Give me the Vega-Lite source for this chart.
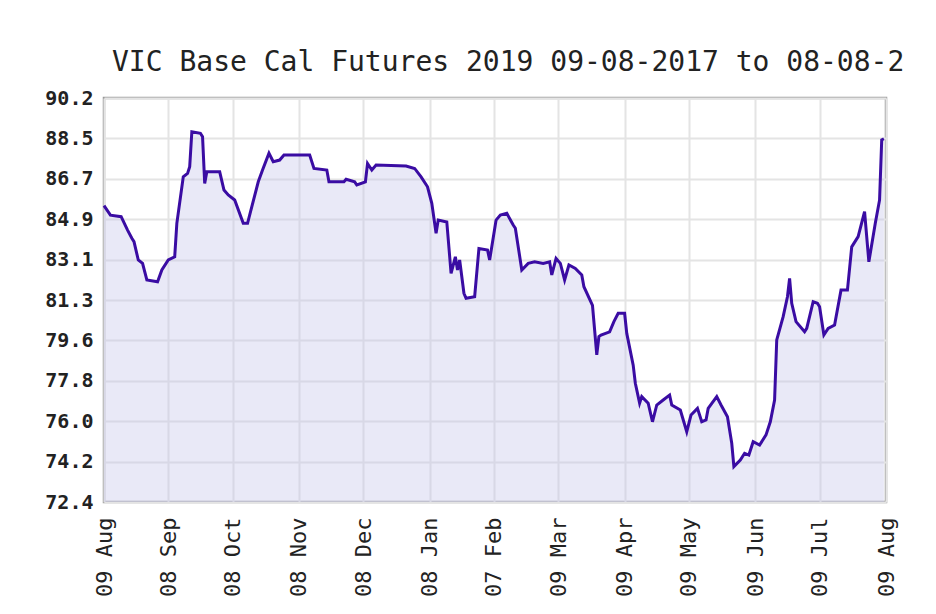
{
  "$schema": "https://vega.github.io/schema/vega-lite/v6.json",
  "width": 782,
  "height": 404,
  "autosize": {"type": "none"},
  "padding": {"left": 104, "top": 98, "right": 50, "bottom": 112},
  "background": "white",
  "title": {
    "text": "VIC Base Cal Futures 2019 09-08-2017 to 08-08-2",
    "font": "DejaVu Sans Mono",
    "fontSize": 28,
    "fontWeight": "normal",
    "color": "#222222",
    "anchor": "start",
    "frame": "group",
    "dx": 8,
    "offset": 11
  },
  "config": {
    "view": {"stroke": "#9a9a9a", "strokeWidth": 2.5},
    "axis": {
      "labelFont": "DejaVu Sans Mono",
      "labelColor": "#222222",
      "domain": false,
      "ticks": false,
      "grid": true,
      "gridColor": "#e4e4e4",
      "gridWidth": 2,
      "title": null
    }
  },
  "data": {
    "values": [
      {"d": "2017-08-09T00:00", "v": 85.5},
      {"d": "2017-08-12T00:00", "v": 85.08},
      {"d": "2017-08-17T00:00", "v": 85.01},
      {"d": "2017-08-20T00:00", "v": 84.42},
      {"d": "2017-08-22T00:00", "v": 84.06},
      {"d": "2017-08-23T00:00", "v": 83.91},
      {"d": "2017-08-25T00:00", "v": 83.1},
      {"d": "2017-08-27T00:00", "v": 82.95},
      {"d": "2017-08-29T00:00", "v": 82.22},
      {"d": "2017-09-03T00:00", "v": 82.14},
      {"d": "2017-09-05T00:00", "v": 82.66},
      {"d": "2017-09-08T00:00", "v": 83.1},
      {"d": "2017-09-11T00:00", "v": 83.24},
      {"d": "2017-09-12T00:00", "v": 84.72},
      {"d": "2017-09-15T00:00", "v": 86.77},
      {"d": "2017-09-17T00:00", "v": 86.92},
      {"d": "2017-09-18T00:00", "v": 87.22},
      {"d": "2017-09-19T00:00", "v": 88.76},
      {"d": "2017-09-23T00:00", "v": 88.69},
      {"d": "2017-09-24T00:00", "v": 88.54},
      {"d": "2017-09-25T00:00", "v": 86.48},
      {"d": "2017-09-26T00:00", "v": 86.99},
      {"d": "2017-10-02T00:00", "v": 86.99},
      {"d": "2017-10-04T00:00", "v": 86.19},
      {"d": "2017-10-06T00:00", "v": 85.97},
      {"d": "2017-10-09T00:00", "v": 85.75},
      {"d": "2017-10-13T00:00", "v": 84.72},
      {"d": "2017-10-15T00:00", "v": 84.72},
      {"d": "2017-10-17T00:00", "v": 85.45},
      {"d": "2017-10-20T00:00", "v": 86.55},
      {"d": "2017-10-22T00:00", "v": 87.07},
      {"d": "2017-10-25T00:00", "v": 87.81},
      {"d": "2017-10-27T00:00", "v": 87.44},
      {"d": "2017-10-30T00:00", "v": 87.51},
      {"d": "2017-11-01T00:00", "v": 87.73},
      {"d": "2017-11-13T00:00", "v": 87.73},
      {"d": "2017-11-15T00:00", "v": 87.14},
      {"d": "2017-11-21T00:00", "v": 87.07},
      {"d": "2017-11-22T00:00", "v": 86.55},
      {"d": "2017-11-29T00:00", "v": 86.55},
      {"d": "2017-11-30T00:00", "v": 86.66},
      {"d": "2017-12-04T00:00", "v": 86.55},
      {"d": "2017-12-05T00:00", "v": 86.41},
      {"d": "2017-12-09T00:00", "v": 86.55},
      {"d": "2017-12-10T00:00", "v": 87.36},
      {"d": "2017-12-12T00:00", "v": 87.07},
      {"d": "2017-12-14T00:00", "v": 87.29},
      {"d": "2017-12-28T00:00", "v": 87.25},
      {"d": "2018-01-01T00:00", "v": 87.14},
      {"d": "2018-01-04T00:00", "v": 86.77},
      {"d": "2018-01-07T00:00", "v": 86.33},
      {"d": "2018-01-09T00:00", "v": 85.6},
      {"d": "2018-01-11T00:00", "v": 84.28},
      {"d": "2018-01-12T00:00", "v": 84.86},
      {"d": "2018-01-16T00:00", "v": 84.78},
      {"d": "2018-01-18T00:00", "v": 82.51},
      {"d": "2018-01-20T00:00", "v": 83.24},
      {"d": "2018-01-21T00:00", "v": 82.66},
      {"d": "2018-01-22T00:00", "v": 83.1},
      {"d": "2018-01-24T00:00", "v": 81.63},
      {"d": "2018-01-25T00:00", "v": 81.41},
      {"d": "2018-01-29T00:00", "v": 81.48},
      {"d": "2018-01-31T00:00", "v": 83.61},
      {"d": "2018-02-04T00:00", "v": 83.54},
      {"d": "2018-02-05T00:00", "v": 83.1},
      {"d": "2018-02-08T00:00", "v": 84.86},
      {"d": "2018-02-10T00:00", "v": 85.08},
      {"d": "2018-02-13T00:00", "v": 85.16},
      {"d": "2018-02-16T00:00", "v": 84.64},
      {"d": "2018-02-17T00:00", "v": 84.5},
      {"d": "2018-02-20T00:00", "v": 82.66},
      {"d": "2018-02-23T00:00", "v": 82.95},
      {"d": "2018-02-26T00:00", "v": 83.02},
      {"d": "2018-03-02T00:00", "v": 82.95},
      {"d": "2018-03-05T00:00", "v": 83.02},
      {"d": "2018-03-06T00:00", "v": 82.44},
      {"d": "2018-03-08T00:00", "v": 83.17},
      {"d": "2018-03-10T00:00", "v": 82.95},
      {"d": "2018-03-12T00:00", "v": 82.22},
      {"d": "2018-03-14T00:00", "v": 82.88},
      {"d": "2018-03-17T00:00", "v": 82.73},
      {"d": "2018-03-20T00:00", "v": 82.44},
      {"d": "2018-03-21T00:00", "v": 81.92},
      {"d": "2018-03-25T00:00", "v": 81.1},
      {"d": "2018-03-26T00:00", "v": 80.01},
      {"d": "2018-03-27T00:00", "v": 78.91},
      {"d": "2018-03-28T00:00", "v": 79.72},
      {"d": "2018-03-29T00:00", "v": 79.79},
      {"d": "2018-04-02T00:00", "v": 79.93},
      {"d": "2018-04-04T00:00", "v": 80.38},
      {"d": "2018-04-06T00:00", "v": 80.75},
      {"d": "2018-04-09T00:00", "v": 80.75},
      {"d": "2018-04-10T00:00", "v": 79.86},
      {"d": "2018-04-13T00:00", "v": 78.46},
      {"d": "2018-04-14T00:00", "v": 77.66},
      {"d": "2018-04-16T00:00", "v": 76.78},
      {"d": "2018-04-17T00:00", "v": 77.07},
      {"d": "2018-04-20T00:00", "v": 76.78},
      {"d": "2018-04-22T00:00", "v": 75.96},
      {"d": "2018-04-24T00:00", "v": 76.7},
      {"d": "2018-04-27T00:00", "v": 76.92},
      {"d": "2018-04-30T00:00", "v": 77.14},
      {"d": "2018-05-01T00:00", "v": 76.7},
      {"d": "2018-05-05T00:00", "v": 76.48},
      {"d": "2018-05-08T00:00", "v": 75.52},
      {"d": "2018-05-10T00:00", "v": 76.26},
      {"d": "2018-05-13T00:00", "v": 76.55},
      {"d": "2018-05-15T00:00", "v": 75.96},
      {"d": "2018-05-17T00:00", "v": 76.04},
      {"d": "2018-05-18T00:00", "v": 76.55},
      {"d": "2018-05-22T00:00", "v": 77.07},
      {"d": "2018-05-24T00:00", "v": 76.7},
      {"d": "2018-05-27T00:00", "v": 76.18},
      {"d": "2018-05-29T00:00", "v": 75.01},
      {"d": "2018-05-30T00:00", "v": 73.98},
      {"d": "2018-06-02T00:00", "v": 74.27},
      {"d": "2018-06-04T00:00", "v": 74.57},
      {"d": "2018-06-06T00:00", "v": 74.49},
      {"d": "2018-06-08T00:00", "v": 75.08},
      {"d": "2018-06-11T00:00", "v": 74.93},
      {"d": "2018-06-14T00:00", "v": 75.38},
      {"d": "2018-06-16T00:00", "v": 75.96},
      {"d": "2018-06-18T00:00", "v": 76.92},
      {"d": "2018-06-19T00:00", "v": 79.57},
      {"d": "2018-06-22T00:00", "v": 80.6},
      {"d": "2018-06-24T00:00", "v": 81.48},
      {"d": "2018-06-25T00:00", "v": 82.29},
      {"d": "2018-06-26T00:00", "v": 81.19},
      {"d": "2018-06-28T00:00", "v": 80.38},
      {"d": "2018-07-02T00:00", "v": 79.93},
      {"d": "2018-07-03T00:00", "v": 80.08},
      {"d": "2018-07-06T00:00", "v": 81.26},
      {"d": "2018-07-08T00:00", "v": 81.19},
      {"d": "2018-07-09T00:00", "v": 81.04},
      {"d": "2018-07-11T00:00", "v": 79.79},
      {"d": "2018-07-13T00:00", "v": 80.08},
      {"d": "2018-07-16T00:00", "v": 80.23},
      {"d": "2018-07-19T00:00", "v": 81.77},
      {"d": "2018-07-22T00:00", "v": 81.77},
      {"d": "2018-07-24T00:00", "v": 83.68},
      {"d": "2018-07-27T00:00", "v": 84.13},
      {"d": "2018-07-30T00:00", "v": 85.23},
      {"d": "2018-08-01T00:00", "v": 83.02},
      {"d": "2018-08-04T00:00", "v": 84.72},
      {"d": "2018-08-06T00:00", "v": 85.75},
      {"d": "2018-08-07T00:00", "v": 88.4},
      {"d": "2018-08-08T00:00", "v": 88.45}
    ]
  },
  "encoding": {
    "x": {
      "field": "d",
      "type": "temporal",
      "scale": {
        "domain": [
          {"year": 2017, "month": 8, "date": 9},
          {"year": 2018, "month": 8, "date": 9}
        ]
      },
      "axis": {
        "values": [
          {"year": 2017, "month": 8, "date": 9},
          {"year": 2017, "month": 9, "date": 8},
          {"year": 2017, "month": 10, "date": 8},
          {"year": 2017, "month": 11, "date": 8},
          {"year": 2017, "month": 12, "date": 8},
          {"year": 2018, "month": 1, "date": 8},
          {"year": 2018, "month": 2, "date": 7},
          {"year": 2018, "month": 3, "date": 9},
          {"year": 2018, "month": 4, "date": 9},
          {"year": 2018, "month": 5, "date": 9},
          {"year": 2018, "month": 6, "date": 9},
          {"year": 2018, "month": 7, "date": 9},
          {"year": 2018, "month": 8, "date": 9}
        ],
        "format": "%d %b",
        "labelAngle": 270,
        "labelAlign": "right",
        "labelBaseline": "middle",
        "labelFontSize": 22,
        "labelPadding": 15,
        "labelOverlap": false,
        "labelFlush": false
      }
    },
    "y": {
      "field": "v",
      "type": "quantitative",
      "scale": {"domain": [72.419, 90.249], "zero": false, "nice": false},
      "axis": {
        "values": [72.419, 74.202, 75.985, 77.768, 79.551, 81.334, 83.117, 84.9, 86.683, 88.466, 90.249],
        "format": ".1f",
        "labelFontSize": 20,
        "labelFontWeight": "bold",
        "labelPadding": 11,
        "labelOverlap": false,
        "labelFlush": false
      }
    }
  },
  "layer": [
    {
      "mark": {"type": "area", "color": "#c4c4ea", "opacity": 0.38},
      "encoding": {"y2": {"datum": 72.419}}
    },
    {"mark": {"type": "line", "color": "#3a0ca3", "strokeWidth": 3}}
  ]
}
